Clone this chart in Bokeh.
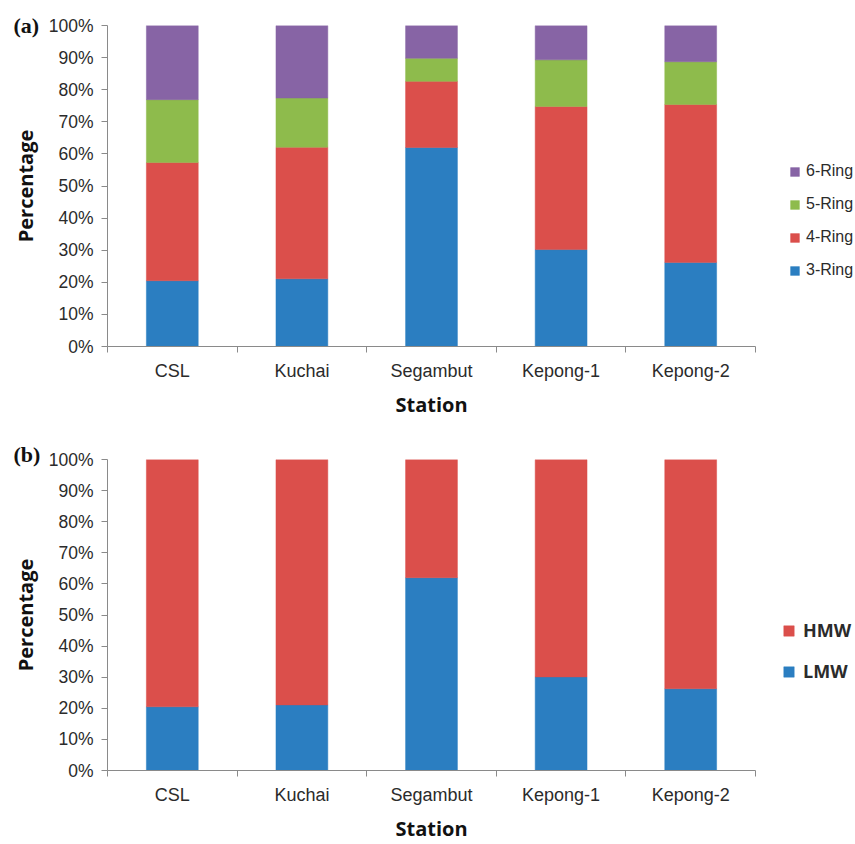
from bokeh.plotting import figure
from bokeh.layouts import column
from bokeh.models import (ColumnDataSource, Range1d, FixedTicker, PrintfTickFormatter,
                          Legend, LegendItem, Label)
from bokeh.embed import file_html
from bokeh.resources import INLINE

# ---- data (percent of total PAHs per station) ----
stations = ["CSL", "Kuchai", "Segambut", "Kepong-1", "Kepong-2"]
ring3 = [20.5, 21.1, 62.0, 30.2, 26.2]
ring4 = [36.8, 41.0, 20.6, 44.6, 49.2]
ring5 = [19.6, 15.3, 7.2, 14.5, 13.3]
ring6 = [23.1, 22.6, 10.2, 10.7, 11.3]
lmw = [20.5, 21.1, 62.0, 30.1, 26.3]
hmw = [79.5, 78.9, 38.0, 69.9, 73.7]
y_ticks = list(range(0, 101, 10))

# ---- styling ----
BLUE, RED, GREEN, PURPLE = "#2B7EC1", "#DB4F4B", "#8EBB4C", "#8764A5"
AXIS_GRAY = "#8a8a8a"
TEXT = "#2b2b2b"
SANS = "Liberation Sans"
TITLE_FONT = "Open Sans"
TAG_STYLE = dict(text_font="Liberation Serif", text_font_style="bold",
                 text_font_size="22px", text_color="#111111",
                 text_baseline="alphabetic", x_units="screen", y_units="screen")

xs = list(range(1, len(stations) + 1))


def make_panel(frame_h, top_border, src, stack, colors):
    p = figure(frame_width=648, frame_height=frame_h,
               min_border_left=107, min_border_right=100,
               min_border_top=top_border, min_border_bottom=74,
               x_range=Range1d(0.5, len(stations) + 0.5), y_range=Range1d(0, 100),
               output_backend="svg", toolbar_location=None)
    p.outline_line_color = None
    p.grid.visible = False
    p.background_fill_color = "white"
    p.border_fill_color = "white"

    rs = p.vbar_stack(stack, x="x", width=0.4, source=src, color=colors,
                      line_color=colors, line_width=0.5)

    # x axis: labels at bar centres, tick marks between categories
    xa = p.xaxis[0]
    xa.ticker = FixedTicker(ticks=xs, minor_ticks=[x - 0.5 for x in xs] + [xs[-1] + 0.5])
    xa.major_label_overrides = {x: s for x, s in zip(xs, stations)}
    xa.major_tick_out = 0
    xa.major_tick_in = 0
    xa.minor_tick_out = 6
    xa.minor_tick_in = 0
    xa.minor_tick_line_color = AXIS_GRAY
    xa.axis_line_color = AXIS_GRAY
    xa.major_label_text_font = SANS
    xa.major_label_text_font_size = "18px"
    xa.major_label_text_color = TEXT
    xa.major_label_standoff = 8
    xa.axis_label = "Station"
    xa.axis_label_text_font = TITLE_FONT
    xa.axis_label_text_font_style = "bold"
    xa.axis_label_text_font_size = "20px"
    xa.axis_label_text_color = "#111111"
    xa.axis_label_standoff = 7

    ya = p.yaxis[0]
    ya.ticker = FixedTicker(ticks=y_ticks)
    ya.formatter = PrintfTickFormatter(format="%d%%")
    ya.major_tick_out = 6
    ya.major_tick_in = 0
    ya.minor_tick_out = 0
    ya.minor_tick_in = 0
    ya.major_tick_line_color = AXIS_GRAY
    ya.axis_line_color = AXIS_GRAY
    ya.major_label_text_font = SANS
    ya.major_label_text_font_size = "17.5px"
    ya.major_label_text_color = TEXT
    ya.major_label_standoff = 8
    ya.axis_label = "Percentage"
    ya.axis_label_text_font = TITLE_FONT
    ya.axis_label_text_font_style = "bold"
    ya.axis_label_text_font_size = "20px"
    ya.axis_label_text_color = "#111111"
    ya.axis_label_standoff = 7
    return p, rs


def add_legend(p, rs, names, loc, style):
    # topmost series listed first
    items = [LegendItem(label=n, renderers=[r]) for n, r in zip(names, rs)][::-1]
    p.add_layout(Legend(items=items, location=loc, padding=0, margin=0,
                        border_line_color=None, background_fill_alpha=0,
                        label_text_color=TEXT, **style), "right")


# (a) ring-number composition
src_a = ColumnDataSource(dict(x=xs, r3=ring3, r4=ring4, r5=ring5, r6=ring6))
pa, rs_a = make_panel(321, 24, src_a, ["r3", "r4", "r5", "r6"],
                      [BLUE, RED, GREEN, PURPLE])
add_legend(pa, rs_a, ["3-Ring", "4-Ring", "5-Ring", "6-Ring"], (34, 66),
           dict(glyph_width=11, glyph_height=11, label_height=20, spacing=13,
                label_standoff=6, label_text_font=SANS, label_text_font_size="16px"))
pa.add_layout(Label(x=-94, y=0, text="(a)", **TAG_STYLE), "above")

# (b) low vs high molecular weight
src_b = ColumnDataSource(dict(x=xs, lmw=lmw, hmw=hmw))
pb, rs_b = make_panel(311, 39, src_b, ["lmw", "hmw"], [BLUE, RED])
add_legend(pb, rs_b, ["LMW", "HMW"], (27, 87),
           dict(glyph_width=13, glyph_height=13, label_height=24, spacing=17,
                label_standoff=8, label_text_font=TITLE_FONT,
                label_text_font_style="bold", label_text_font_size="18px"))
pb.add_layout(Label(x=-94, y=5, text="(b)", **TAG_STYLE), "above")

layout = column(pa, pb, spacing=0)
open("out.html", "w").write(file_html(layout, INLINE))
